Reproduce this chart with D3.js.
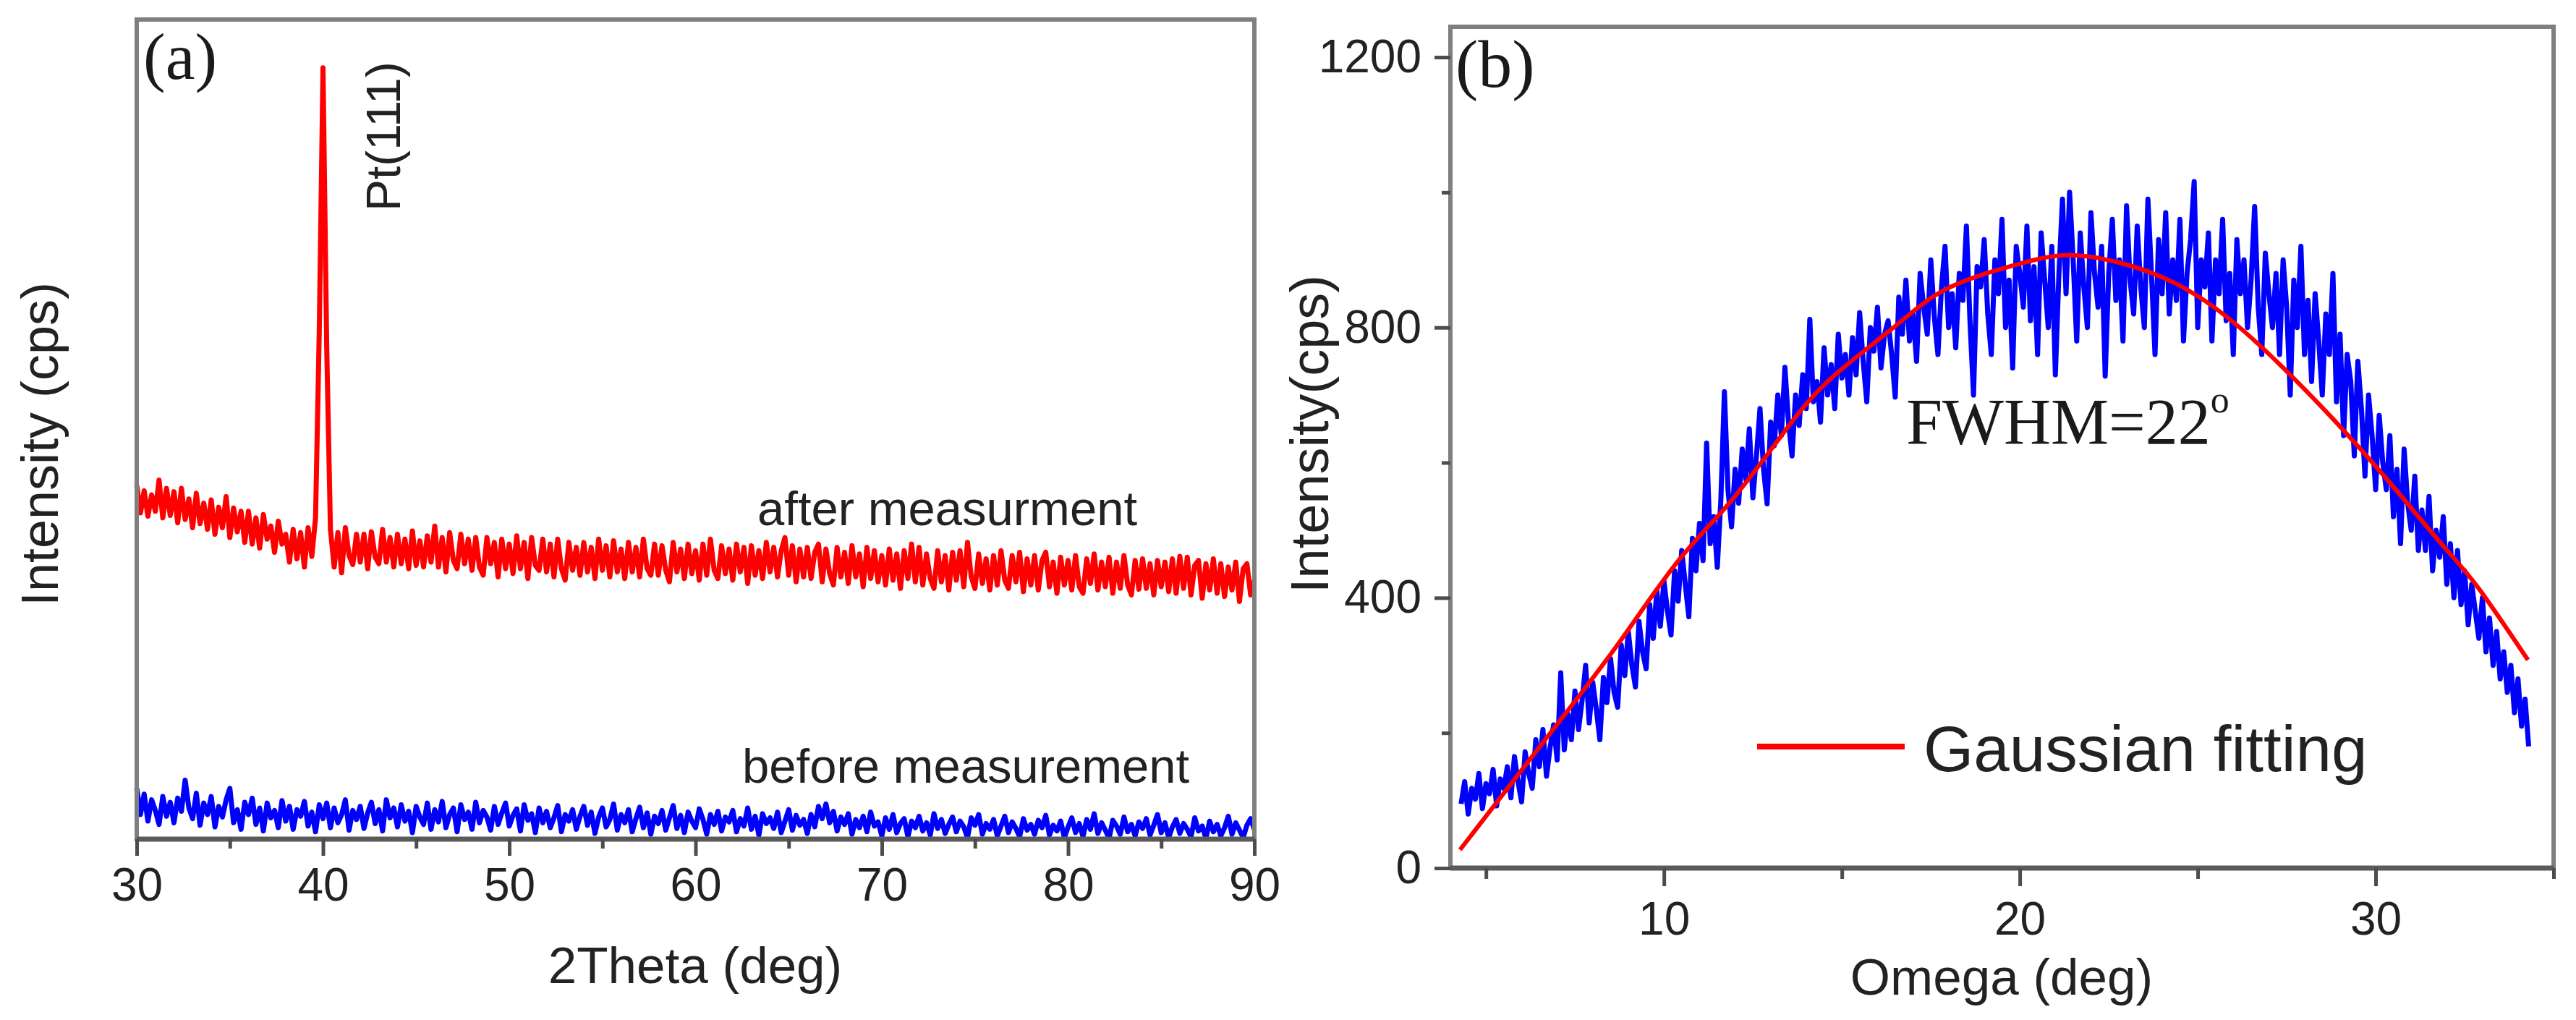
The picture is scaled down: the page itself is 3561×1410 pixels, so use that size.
<!DOCTYPE html>
<html>
<head>
<meta charset="utf-8">
<script src="https://cdn.jsdelivr.net/npm/d3@7"></script>
<style>
  body { margin: 0; background: #fff; }
  .tick line { stroke: #4d4d4d; stroke-width: 5; }
  .tick text { font-family: "Liberation Sans", Arial, sans-serif; font-size: 64px; fill: #222; }
  .sans { font-family: "Liberation Sans", Arial, sans-serif; fill: #222; }
  .serif { font-family: "Liberation Serif", "Times New Roman", serif; fill: #1a1a1a; }
</style>
</head>
<body>
<script>
const width = 3561;
const height = 1410;

// (a) XRD scans on a 0.2 deg 2theta grid, 30..90 (arbitrary units, no y labels)
const twoThetaStart = 30;
const twoThetaStep = 0.2;
const afterCounts = [
  432, 398, 425, 394, 420, 400, 438, 392, 428, 395,
  424, 386, 428, 390, 415, 380, 422, 385, 410, 378,
  414, 372, 405, 380, 418, 368, 404, 375, 400, 362,
  400, 360, 392, 355, 396, 366, 382, 350, 388, 360,
  372, 338, 378, 342, 374, 332, 380, 345, 392, 620,
  941, 600, 378, 332, 374, 325, 380, 346, 335, 372,
  338, 372, 330, 375, 344, 336, 378, 338, 368, 332,
  372, 336, 366, 330, 376, 334, 364, 332, 370, 338,
  382, 332, 368, 326, 374, 340, 330, 372, 336, 366,
  328, 368, 332, 322, 368, 336, 362, 320, 366, 330,
  360, 324, 370, 330, 362, 318, 368, 334, 328, 366,
  326, 360, 320, 366, 330, 316, 362, 328, 356, 322,
  362, 326, 356, 318, 366, 328, 358, 320, 364, 326,
  354, 318, 362, 326, 356, 320, 366, 330, 322, 360,
  322, 358, 328, 314, 362, 326, 354, 318, 360, 324,
  352, 316, 360, 322, 366, 328, 318, 358, 324, 354,
  316, 360, 326, 356, 312, 358, 322, 352, 318, 362,
  326, 356, 320, 352, 368, 322, 358, 314, 354, 320,
  356, 318, 350, 360, 314, 354, 324, 310, 356, 320,
  350, 312, 358, 320, 348, 308, 356, 318, 352, 314,
  346, 310, 354, 316, 348, 306, 352, 318, 360, 314,
  356, 310, 348, 318, 306, 352, 314, 346, 304, 350,
  316, 352, 308, 362, 320, 306, 348, 312, 342, 304,
  346, 310, 352, 316, 306, 346, 314, 350, 302, 342,
  310, 346, 304, 340, 350, 308, 338, 300, 344, 310,
  340, 304, 346, 308, 300, 342, 312, 348, 304, 338,
  308, 344, 300, 338, 306, 346, 310, 298, 340, 305,
  342, 306, 336, 298, 340, 308, 338, 302, 342, 300,
  345, 306, 344, 298, 334, 340, 294, 336, 304, 342,
  300, 336, 296, 332, 304, 338, 290, 330, 336, 298,
  316
];
const beforeCounts = [
  62, 30, 55, 22, 48, 35, 18, 52, 28, 45,
  20, 50, 34, 72, 38, 25, 56, 17, 44, 30,
  52, 15, 40, 27, 48, 62, 20, 36, 12, 45,
  30, 50, 18, 38, 10, 44, 26, 35, 14, 47,
  22, 40, 12, 36, 28, 46, 16, 33, 9, 42,
  25, 44, 14, 38, 20, 30, 48, 11, 35, 24,
  40, 13, 32, 45, 19, 36, 10, 48, 26, 38,
  15, 42, 22, 34, 8, 40, 27, 18, 44, 12,
  36, 21, 46, 14, 30, 38, 9, 42, 24, 33,
  12, 45, 20, 35, 27, 11, 40, 18, 32, 44,
  16, 29, 37, 10, 42, 23, 31, 8, 38, 20,
  34, 14, 26, 41, 9, 30, 22, 36, 12, 28,
  40, 17, 33, 7, 27, 38, 15, 24, 43, 11,
  30, 20, 36, 9, 25, 39, 14, 32, 6, 28,
  19, 35, 11, 26, 41, 13, 29, 8, 33, 22,
  14, 37, 24, 6, 30, 18, 34, 10, 27, 21,
  35, 9, 25, 16, 38, 12, 28, 5, 31, 19,
  26, 13, 33, 8, 22, 36, 11, 29, 17, 24,
  7, 30, 15, 40, 25, 43, 20, 34, 10, 27,
  18, 31, 6, 24, 14, 28, 9, 33, 16, 21,
  4, 26, 12, 30, 8, 19, 25, 3, 22, 14,
  28, 10, 20, 5, 31, 13, 24, 7, 18, 27,
  9, 22, 15, 2, 26, 17, 30, 6, 19, 12,
  24, 4, 16, 28, 8, 21, 13, 3, 25, 11,
  18, 6, 23, 14, 29, 5, 17, 10, 22, 2,
  15, 26, 8, 19, 3, 24, 12, 31, 7, 20,
  11, 1, 23, 16, 6, 27, 9, 18, 4, 21,
  13, 25, 5, 17, 30, 8, 20, 2, 15, 24,
  7, 19, 12, 3, 26, 10, 16, 1, 22, 9,
  18, 4, 14, 28, 6, 20, 11, 2, 17, 25,
  12
];

// (b) omega rocking curve, 0.1 deg grid from 4.3 to 34.3
const omegaStart = 4.3;
const omegaStep = 0.1;
const omegaCounts = [
  95, 128, 80, 118, 102, 140, 88, 125, 110, 146,
  92, 132, 118, 150, 104, 165, 128, 98, 172, 140,
  118, 190, 150, 205, 136, 178, 212, 160, 289, 175,
  228, 190, 262, 205, 248, 300, 215, 275, 235, 190,
  282, 245, 310, 260, 238, 330, 285, 350, 300, 268,
  365, 320, 295, 390, 340, 410, 358, 425, 380, 345,
  440, 395, 470, 420, 372, 488, 440, 510, 455, 629,
  480, 520, 445, 545, 705, 560, 505, 590, 540, 620,
  575, 650, 548, 610, 680, 590, 539, 660, 625, 700,
  640, 741, 660, 610, 700, 655, 730, 680, 812, 690,
  720, 660, 770, 700, 745, 680, 790, 725, 760, 700,
  785, 730, 822, 750, 690, 800, 765, 830, 740, 790,
  810, 760, 697, 845, 790, 870, 780, 820, 750, 880,
  830, 790, 900, 815, 760, 860, 920, 800, 850, 770,
  880, 840, 950, 810, 700, 890, 860, 930, 820, 760,
  900, 850, 960, 800, 870, 740, 920, 880, 830, 950,
  810, 890, 760, 940, 870, 800, 920, 730, 880, 990,
  850, 1000, 900, 780, 940, 860, 800, 970, 880, 830,
  920, 728, 880, 960, 840, 900, 780, 980, 870, 820,
  950, 860, 800, 990, 880, 760, 930, 850, 970, 820,
  900, 840, 960, 780, 880, 930, 1016, 800, 900, 860,
  940, 780, 900, 850, 960, 810, 880, 760, 930, 850,
  900, 800, 870, 979, 830, 760, 910, 850, 800, 880,
  760, 900, 830, 700, 870, 800, 920, 760, 840, 720,
  850, 780, 700, 820, 760, 880, 690, 790, 640, 760,
  720, 610, 750, 680, 580, 700, 640, 560, 670, 600,
  560, 640, 520, 590, 480, 620, 540, 500, 580, 470,
  530, 470, 550, 440, 500, 460, 520, 420, 480, 400,
  470, 390, 440, 360, 420, 380, 340, 400, 320, 370,
  300, 350, 280, 320, 260, 300, 230, 280, 210, 250,
  180
];
// Gaussian fit
const fitOmega = [4.27, 5.62, 7.06, 8.72, 10.36, 11.82, 13.26, 14.6, 16.36, 17.9, 19.77,
  21.29, 22.79, 24.31, 25.81, 27.33, 28.85, 30.34, 31.86, 32.88, 34.28];
const fitCounts = [27, 119, 217, 332, 452, 539, 637, 720, 796, 856, 891,
  907, 896, 867, 816, 744, 662, 574, 479, 415, 308];

const xTicksA = [30, 40, 50, 60, 70, 80, 90];
const xMinorA = [35, 45, 55, 65, 75, 85];
const xTicksB = [10, 20, 30];
const xMinorB = [5, 15, 25, 35];
const yTicksB = [0, 400, 800, 1200];
const yMinorB = [200, 600, 1000];

const svg = d3
  .select("body")
  .append("svg")
  .attr("width", width)
  .attr("height", height);

const xA = d3.scaleLinear().domain([30, 90]).range([189, 1734]);
const yA = d3.scaleLinear().domain([0, 1000]).range([1160, 27]);
const xB = d3.scaleLinear().domain([4, 35]).range([2005, 3530]);
const yB = d3.scaleLinear().domain([0, 1245]).range([1200, 37]);

const onGrid = (counts, start, step) => counts.map((c, i) => [start + i * step, c]);

// ---- data ----
const lineA = d3.line().x((d) => xA(d[0])).y((d) => yA(d[1]));
const lineB = d3.line().x((d) => xB(d[0])).y((d) => yB(d[1]));

svg.append("path")
  .datum(onGrid(beforeCounts, twoThetaStart, twoThetaStep))
  .attr("d", lineA)
  .attr("fill", "none").attr("stroke", "#0000ff").attr("stroke-width", 7)
  .attr("stroke-linejoin", "round");

svg.append("path")
  .datum(onGrid(afterCounts, twoThetaStart, twoThetaStep))
  .attr("d", lineA)
  .attr("fill", "none").attr("stroke", "#ff0000").attr("stroke-width", 7)
  .attr("stroke-linejoin", "round");

svg.append("path")
  .datum(onGrid(omegaCounts, omegaStart, omegaStep))
  .attr("d", lineB)
  .attr("fill", "none").attr("stroke", "#0000ff").attr("stroke-width", 7)
  .attr("stroke-linejoin", "round");

svg.append("path")
  .datum(fitOmega.map((w, i) => [w, fitCounts[i]]))
  .attr("d", lineB.curve(d3.curveNatural))
  .attr("fill", "none").attr("stroke", "#ff0000").attr("stroke-width", 6);

// ---- frames ----
function frame(x, y) {
  svg.append("rect")
    .attr("x", x.range()[0])
    .attr("y", y.range()[1])
    .attr("width", x.range()[1] - x.range()[0])
    .attr("height", y.range()[0] - y.range()[1])
    .attr("fill", "none")
    .attr("stroke", "#7f7f7f")
    .attr("stroke-width", 6);
  svg.append("line")
    .attr("x1", x.range()[0]).attr("x2", x.range()[1])
    .attr("y1", y.range()[0]).attr("y2", y.range()[0])
    .attr("stroke", "#5a5a5a").attr("stroke-width", 7);
}
frame(xA, yA);
frame(xB, yB);

// ---- axes ----
function drawAxis(axis, tx, ty) {
  const g = svg.append("g").attr("transform", `translate(${tx},${ty})`).call(axis);
  g.select(".domain").remove();
  return g;
}
drawAxis(d3.axisBottom(xA).tickValues(xTicksA).tickSize(23).tickPadding(17), 0, yA(0));
drawAxis(d3.axisBottom(xA).tickValues(xMinorA).tickSize(13).tickFormat(""), 0, yA(0));
drawAxis(d3.axisBottom(xB).tickValues(xTicksB).tickSize(25).tickPadding(22), 0, yB(0));
drawAxis(d3.axisBottom(xB).tickValues(xMinorB).tickSize(15).tickFormat(""), 0, yB(0));
drawAxis(d3.axisLeft(yB).tickValues(yTicksB).tickFormat(d3.format("d"))
  .tickSize(22).tickPadding(18), xB(4), 0);
drawAxis(d3.axisLeft(yB).tickValues(yMinorB).tickSize(12).tickFormat(""), xB(4), 0);

// ---- labels ----
svg.append("text").attr("class", "sans")
  .attr("x", 961).attr("y", 1359).attr("text-anchor", "middle")
  .style("font-size", "71px").text("2Theta (deg)");
svg.append("text").attr("class", "sans")
  .attr("x", 2767).attr("y", 1375).attr("text-anchor", "middle")
  .style("font-size", "71px").text("Omega (deg)");
svg.append("text").attr("class", "sans")
  .attr("transform", "translate(80,614) rotate(-90)").attr("text-anchor", "middle")
  .style("font-size", "72px").text("Intensity (cps)");
svg.append("text").attr("class", "sans")
  .attr("transform", "translate(1836,600) rotate(-90)").attr("text-anchor", "middle")
  .style("font-size", "74px").text("Intensity(cps)");

svg.append("text").attr("class", "serif")
  .attr("x", 198).attr("y", 109).style("font-size", "92px").text("(a)");
svg.append("text").attr("class", "serif")
  .attr("x", 2012).attr("y", 120).style("font-size", "94px").text("(b)");

svg.append("text").attr("class", "sans")
  .attr("transform", "translate(553,292) rotate(-90)")
  .style("font-size", "66px").text("Pt(111)");
svg.append("text").attr("class", "sans")
  .attr("x", 1047).attr("y", 726).style("font-size", "67px").text("after measurment");
svg.append("text").attr("class", "sans")
  .attr("x", 1026).attr("y", 1082).style("font-size", "67px").text("before measurement");

const fwhm = svg.append("text").attr("class", "serif")
  .attr("x", 2635).attr("y", 614).style("font-size", "90px");
fwhm.append("tspan").text("FWHM=22");
fwhm.append("tspan").attr("dy", -44).style("font-size", "52px").text("o");

// legend
svg.append("line")
  .attr("x1", 2429).attr("x2", 2633).attr("y1", 1032).attr("y2", 1032)
  .attr("stroke", "#ff0000").attr("stroke-width", 8);
svg.append("text").attr("class", "sans")
  .attr("x", 2659).attr("y", 1066).style("font-size", "89px").text("Gaussian fitting");
</script>
</body>
</html>
